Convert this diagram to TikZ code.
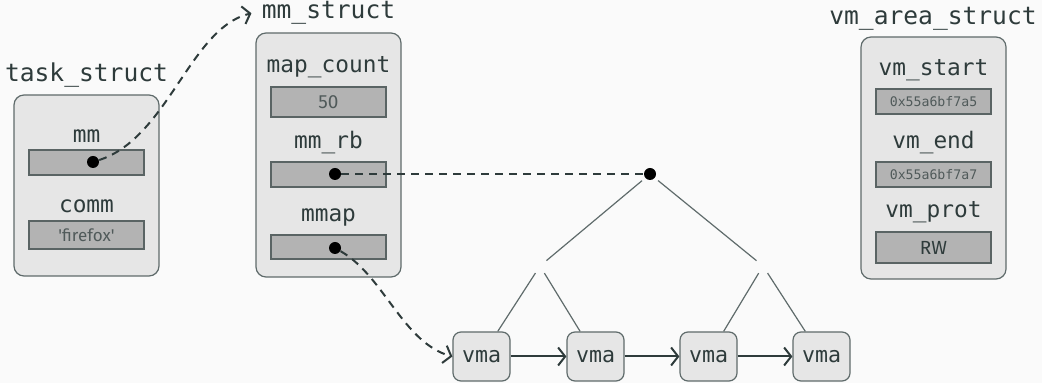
\documentclass[tikz,border=0pt]{standalone}
\usepackage{fontspec}
\setmonofont{DejaVu Sans Mono}
\setsansfont{Fira Sans}
\usetikzlibrary{arrows.meta}
\definecolor{ink}{HTML}{2E3B3B}
\definecolor{valink}{HTML}{505A5A}
\definecolor{boxfill}{HTML}{E6E6E6}
\definecolor{boxedge}{HTML}{5F6B6B}
\definecolor{fieldfill}{HTML}{B3B3B3}
\definecolor{fieldedge}{HTML}{5A6464}
\definecolor{bg}{HTML}{FAFAFA}
\begin{document}
\begin{tikzpicture}[
  x=0.5pt, y=-0.5pt,
  struct/.style={draw=boxedge, fill=boxfill, line width=0.6pt,
                 rounded corners=5pt, inner sep=0pt, minimum width=72.5pt},
  field/.style={draw=fieldedge, fill=fieldfill, line width=0.6pt,
                inner sep=0pt, minimum width=57.5pt},
  title/.style={font=\ttfamily\fontsize{12.3}{14}\selectfont, text=ink,
                anchor=base, inner sep=0pt},
  lab/.style={font=\ttfamily\fontsize{11.4}{13}\selectfont, text=ink,
              anchor=base, inner sep=0pt},
  val/.style={font=\sffamily\fontsize{8.5}{10}\selectfont, text=valink},
  hex/.style={font=\ttfamily\fontsize{6.6}{8}\selectfont, text=valink},
  ptr/.style={circle, fill=black, inner sep=0pt, minimum size=6pt},
  vmabox/.style={draw=boxedge, fill=boxfill, line width=0.6pt,
                 rounded corners=4pt, inner sep=0pt,
                 minimum width=28.5pt, minimum height=24.5pt,
                 font=\ttfamily\fontsize{10.8}{12}\selectfont, text=ink},
  hub/.style={circle, inner sep=0pt, minimum size=8pt},
  branch/.style={line width=0.6pt, boxedge},
  barb/.style={-{Straight Barb[length=3.5pt,width=9pt]}},
  link/.style={line width=1pt, ink, barb},
  deref/.style={line width=1pt, ink, dash pattern=on 4pt off 3pt}]

\useasboundingbox[fill=bg] (0,0) rectangle (1042,383);

% ========================== task_struct ================================
\node[title] (taskname) at (86.5,82) {task\_struct};
\node[struct, minimum height=90.5pt] (task) at (86.5,185.5) {};
\node[lab] (mmlab) at (86.5,143) {mm};
\node[field, minimum height=12.5pt] (mmf) at (86.5,162.5) {};
\node[lab] (commlab) at (86.5,213) {comm};
\node[field, val, minimum height=14pt] (commf) at (86.5,235)
  {\textquotesingle firefox\textquotesingle};
\node[ptr] (mmptr) at (93,162) {};

% =========================== mm_struct =================================
\node[title] (mmname) at (328.5,19) {mm\_struct};
\node[struct, minimum height=122pt] (mm) at (328.5,155) {};
\node[lab] (countlab) at (328.5,73) {map\_count};
\node[field, val, font=\sffamily\fontsize{9.5}{11}\selectfont,
      minimum height=15pt] (countf) at (328.5,102) {50};
\node[lab] (rblab) at (328.5,149) {mm\_rb};
\node[field, minimum height=12.5pt] (rbf) at (328.5,174.5) {};
\node[lab] (maplab) at (328.5,222) {mmap};
\node[field, minimum height=12pt] (mapf) at (328.5,247) {};
\node[ptr] (rbptr)  at (335,174) {};
\node[ptr] (mapptr) at (335,248) {};

% ======================== vm_area_struct ===============================
\node[title] (vmname) at (933,25) {vm\_area\_struct};
\node[struct, minimum height=121pt] (vm) at (933.5,158) {};
\node[lab] (startlab) at (933.5,76) {vm\_start};
\node[field, hex, minimum height=12.5pt] (startf) at (933.5,101.5)
  {0x55a6bf7a5};
\node[lab] (endlab) at (933.5,149) {vm\_end};
\node[field, hex, minimum height=12.5pt] (endf) at (933.5,174.5)
  {0x55a6bf7a7};
\node[lab] (protlab) at (933.5,218) {vm\_prot};
\node[field, val, font=\sffamily\fontsize{9.5}{11}\selectfont, text=ink,
      minimum height=15.5pt] (protf) at (933.5,247.5) {RW};

% ====================== rb tree and vma list ===========================
\node[ptr] (root) at (650,174) {};
\node[hub] (lhub) at (540,266) {};
\node[hub] (rhub) at (763,266) {};
\foreach \i/\xx in {1/481.5,2/595.5,3/708.5,4/821.5}
  \node[vmabox] (vma\i) at (\xx,356.5) {vma};
\draw[branch, shorten <=2pt] (root) -- (lhub);
\draw[branch, shorten <=2pt] (root) -- (rhub);
\draw[branch] (lhub) -- (vma1);
\draw[branch] (lhub) -- (vma2);
\draw[branch] (rhub) -- (vma3);
\draw[branch] (rhub) -- (vma4);
\foreach \a/\b in {1/2,2/3,3/4}
  \draw[link] (vma\a) -- (vma\b);

% pointers
\draw[deref, barb] (mmptr) .. controls (168,138) and (190,28)
  .. ([xshift=-5pt]mmname.west);
\draw[deref] (rbptr) -- (root);
\draw[deref, barb] (mapptr) .. controls (384,276) and (403,343) .. (vma1.west);

\end{tikzpicture}
\end{document}
